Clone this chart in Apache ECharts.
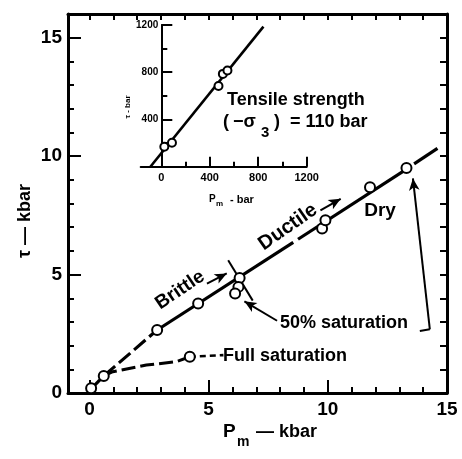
<!DOCTYPE html>
<html>
<head>
<meta charset="utf-8">
<script src="https://cdn.jsdelivr.net/npm/echarts@6/dist/echarts.min.js"></script>
<style>
  html, body { margin: 0; padding: 0; background: #fff; }
  #chart { width: 462px; height: 459px; }
</style>
</head>
<body>
<div id="chart"></div>
<script>
// ---- Main plot: shear stress τ (kbar) against mean pressure Pm (kbar) ----
const dryPoints      = [[0.07, 0.2], [0.6, 0.72], [2.84, 2.66], [4.56, 3.78], [6.3, 4.85],
                        [9.76, 6.94], [9.9, 7.29], [11.77, 8.69]];
const halfSatPoints  = [[6.25, 4.48], [6.11, 4.2], [13.3, 9.5]];
const fullSatPoints  = [[4.21, 1.53]];

const dryCurveLow    = [[-0.05, 0.05], [0.6, 0.72]];
const dryCurveDashed = [[0.6, 0.72], [2.84, 2.66]];
const dryCurveMid    = [[2.84, 2.66], [8.55, 6.36]];
const dryCurveHigh   = [[8.75, 6.49], [13.45, 9.55]];
const dryCurveEnd    = [[13.62, 9.67], [14.6, 10.33]];
const fullSatCurve   = [[0.6, 0.72], [0.98, 0.9], [2.39, 1.18], [3.65, 1.32], [4.21, 1.53]];
const fullSatTail    = [[4.21, 1.53], [5.62, 1.6]];

const brittleDuctileDivider = [[5.82, 5.6], [6.85, 3.9]];
const brittleArrow   = [[4.93, 4.62], [5.76, 5.05]];
const ductileArrow   = [[9.69, 7.71], [10.54, 8.2]];
const halfSatArrowA  = [[7.87, 3.05], [6.5, 3.87]];
const halfSatArrowB  = [[13.86, 2.62], [14.28, 2.69], [13.57, 9.06]];

const mainXLabels = [0, 5, 10, 15];
const mainXMinor  = [1, 2, 3, 4, 6, 7, 8, 9, 11, 12, 13, 14];
const mainXTop    = [0, 1, 2, 3, 4, 5, 6, 7, 8, 9, 10, 11, 12, 13, 14];
const mainYLabels = [0, 5, 10, 15];
const mainYMinor  = [1, 2, 3, 4, 6, 7, 8, 9, 11, 12, 13, 14];
const mainYRight  = [1, 2, 3, 4, 5, 6, 7, 8, 9, 10, 11, 12, 13, 14, 15];

// ---- Inset: τ (bar) against Pm (bar) near the origin ----
const insetPoints  = [[25, 169], [88, 203], [472, 684], [508, 786], [546, 814]];
const insetLine    = [[-90, 0], [843, 1186]];
const insetXLabels = [0, 400, 800, 1200];
const insetXMinor  = [200, 600, 1000];
const insetYLabels = [400, 800, 1200];
const insetYMinor  = [200, 600, 1000];

const INSET_X_MIN = -170, INSET_X_MAX = 1200;
const INSET_LEFT = 140.7, INSET_WIDTH = 166;
// the inset τ axis stands at Pm = 0, inside the inset grid
const insetYOffset = -INSET_WIDTH * (0 - INSET_X_MIN) / (INSET_X_MAX - INSET_X_MIN);

const FONT = '"Liberation Sans", Arial, sans-serif';
const INK = '#000';
const plain = v => String(v);

function curve(data, dashed, width) {
  return {
    type: 'line', xAxisIndex: 0, yAxisIndex: 0, data: data,
    symbol: 'none', silent: true, z: 3,
    lineStyle: { color: INK, width: width || 3.2, type: dashed || 'solid', cap: 'butt' }
  };
}
function markers(data, size, xi, yi) {
  return {
    type: 'scatter', xAxisIndex: xi, yAxisIndex: yi, data: data,
    symbol: 'circle', symbolSize: size, silent: true, z: 5,
    itemStyle: { color: '#fff', borderColor: INK, borderWidth: 2, opacity: 1 }
  };
}
function seg(a, b, arrow) {
  return [{ coord: a, symbol: 'none' }, { coord: b, symbol: arrow ? 'arrow' : 'none' }];
}
function polylineArrow(pts) {
  const out = [];
  for (let i = 0; i < pts.length - 1; i++) out.push(seg(pts[i], pts[i + 1], i === pts.length - 2));
  return out;
}
function txt(text, x, y, size, opts) {
  opts = opts || {};
  return {
    type: 'text', x: x, y: y, rotation: opts.rot || 0, silent: true, z: 10,
    style: {
      text: text, fill: INK, align: opts.align || 'left', verticalAlign: 'middle',
      font: 'bold ' + size + 'px ' + FONT
    }
  };
}

const chart = echarts.init(document.getElementById('chart'), null, { renderer: 'canvas' });

const tickStyle = { color: INK, width: 2 };
const hidden = { show: false };

chart.setOption({
  animation: false,
  backgroundColor: '#fff',
  grid: [
    { left: 68, top: 14, width: 379, height: 379 },
    { left: INSET_LEFT, top: 25, width: INSET_WIDTH, height: 141.7 }
  ],
  xAxis: [
    { gridIndex: 0, type: 'value', position: 'bottom', min: -0.9, max: 15,
      axisLine: { onZero: false, lineStyle: { color: INK, width: 3 } },
      axisTick: { inside: true, length: 13, customValues: mainXLabels, lineStyle: tickStyle },
      axisLabel: { customValues: mainXLabels, formatter: plain, color: INK, fontSize: 19, fontWeight: 'bold', fontFamily: FONT, margin: 7 },
      splitLine: hidden },
    { gridIndex: 0, type: 'value', position: 'bottom', min: -0.9, max: 15,
      axisLine: { show: false, onZero: false },
      axisTick: { inside: true, length: 6, customValues: mainXMinor, lineStyle: tickStyle },
      axisLabel: hidden, splitLine: hidden },
    { gridIndex: 0, type: 'value', position: 'top', min: -0.9, max: 15,
      axisLine: { onZero: false, lineStyle: { color: INK, width: 3 } },
      axisTick: { inside: true, length: 6, customValues: mainXTop, lineStyle: tickStyle },
      axisLabel: hidden, splitLine: hidden },
    { gridIndex: 1, type: 'value', position: 'bottom', min: INSET_X_MIN, max: INSET_X_MAX,
      axisLine: { onZero: false, lineStyle: { color: INK, width: 2 } },
      axisTick: { inside: true, length: 10, customValues: insetXLabels, lineStyle: tickStyle },
      axisLabel: { customValues: insetXLabels, formatter: plain, color: INK, fontSize: 11, fontWeight: 'bold', fontFamily: FONT, margin: 6 },
      splitLine: hidden },
    { gridIndex: 1, type: 'value', position: 'bottom', min: INSET_X_MIN, max: INSET_X_MAX,
      axisLine: { show: false, onZero: false },
      axisTick: { inside: true, length: 5, customValues: insetXMinor, lineStyle: tickStyle },
      axisLabel: hidden, splitLine: hidden }
  ],
  yAxis: [
    { gridIndex: 0, type: 'value', position: 'left', min: 0, max: 16,
      axisLine: { onZero: false, lineStyle: { color: INK, width: 3 } },
      axisTick: { inside: true, length: 13, customValues: mainYLabels, lineStyle: tickStyle },
      axisLabel: { customValues: mainYLabels, formatter: plain, color: INK, fontSize: 19, fontWeight: 'bold', fontFamily: FONT, margin: 6 },
      splitLine: hidden },
    { gridIndex: 0, type: 'value', position: 'left', min: 0, max: 16,
      axisLine: { show: false, onZero: false },
      axisTick: { inside: true, length: 6, customValues: mainYMinor, lineStyle: tickStyle },
      axisLabel: hidden, splitLine: hidden },
    { gridIndex: 0, type: 'value', position: 'right', min: 0, max: 16,
      axisLine: { onZero: false, lineStyle: { color: INK, width: 3 } },
      axisTick: { inside: true, length: 7, customValues: mainYRight, lineStyle: tickStyle },
      axisLabel: hidden, splitLine: hidden },
    { gridIndex: 1, type: 'value', position: 'left', min: 0, max: 1200, offset: insetYOffset,
      axisLine: { onZero: false, lineStyle: { color: INK, width: 2 } },
      axisTick: { inside: true, length: 11, customValues: insetYLabels, lineStyle: tickStyle },
      axisLabel: { customValues: insetYLabels, formatter: plain, color: INK, fontSize: 10, fontWeight: 'bold', fontFamily: FONT, margin: 3 },
      splitLine: hidden },
    { gridIndex: 1, type: 'value', position: 'left', min: 0, max: 1200, offset: insetYOffset,
      axisLine: { show: false, onZero: false },
      axisTick: { inside: true, length: 6, customValues: insetYMinor, lineStyle: tickStyle },
      axisLabel: hidden, splitLine: hidden }
  ],
  series: [
    curve(dryCurveLow),
    curve(dryCurveDashed, [15, 5]),
    curve(dryCurveMid),
    curve(dryCurveHigh),
    curve(dryCurveEnd),
    curve(fullSatCurve, [14, 5], 3),
    Object.assign(curve(fullSatTail, [6, 4], 2.6), {
      markLine: {
        silent: true, animation: false, symbolSize: [8, 12],
        lineStyle: { color: INK, width: 2, type: 'solid' },
        label: { show: false }, emphasis: { disabled: true },
        data: [
          seg(brittleDuctileDivider[0], brittleDuctileDivider[1], false),
          seg(brittleArrow[0], brittleArrow[1], true),
          seg(ductileArrow[0], ductileArrow[1], true),
          seg(halfSatArrowA[0], halfSatArrowA[1], true)
        ].concat(polylineArrow(halfSatArrowB))
      }
    }),
    markers(dryPoints, 10, 0, 0),
    markers(halfSatPoints, 10, 0, 0),
    markers(fullSatPoints, 10, 0, 0),
    {
      type: 'line', xAxisIndex: 3, yAxisIndex: 3, data: insetLine, symbol: 'none', silent: true, z: 3,
      lineStyle: { color: INK, width: 2.6 }
    },
    markers(insetPoints, 8, 3, 3)
  ],
  graphic: [
    // axis titles
    txt('τ — kbar', 25, 221, 18, { align: 'center', rot: Math.PI / 2 }),
    txt('P', 223, 432, 19),
    txt('m', 237, 442, 14),
    txt('— kbar', 256, 432, 18),
    // inset titles
    txt('τ - bar', 128, 107, 8, { align: 'center', rot: Math.PI / 2 }),
    txt('P', 209, 199, 10),
    txt('m', 216, 204, 8),
    txt('- bar', 230, 200, 11),
    // annotations
    txt('Tensile strength', 227, 100, 18),
    txt('(', 223, 122, 18),
    txt('−σ', 233, 122, 18),
    txt('3', 261, 133, 15),
    txt(')', 274, 122, 18),
    txt('= 110 bar', 290, 122, 18),
    txt('Brittle', 180, 290, 19, { align: 'center', rot: 34 * Math.PI / 180 }),
    txt('Ductile', 288, 227, 20, { align: 'center', rot: 35 * Math.PI / 180 }),
    txt('Dry', 380, 211, 19, { align: 'center' }),
    txt('50% saturation', 280, 323, 18),
    txt('Full saturation', 223, 356, 18)
  ]
});
</script>
</body>
</html>
